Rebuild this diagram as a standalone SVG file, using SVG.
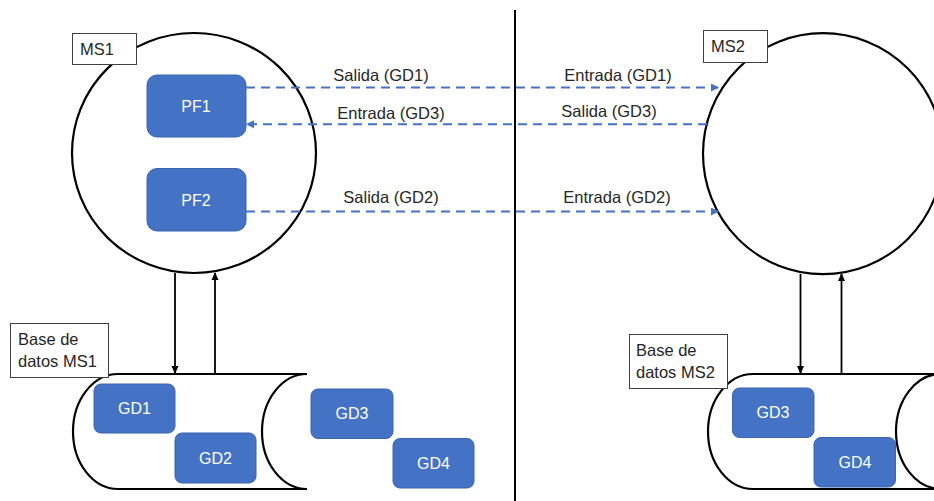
<svg xmlns="http://www.w3.org/2000/svg" width="934" height="501" viewBox="0 0 934 501">
<style>
  .lbl{font-family:"Liberation Sans",Arial,sans-serif;font-size:16.5px;fill:#262626}
  .wt{font-family:"Liberation Sans",Arial,sans-serif;font-size:16px;fill:#ffffff;text-anchor:middle}
  .box{fill:#4472C4;stroke:#3A64B0;stroke-width:1}
  .tag{fill:#ffffff;stroke:#404040;stroke-width:1}
  .ms{fill:#ffffff;stroke:#000000;stroke-width:2.2}
  .cyl{fill:#ffffff;stroke:#000000;stroke-width:2.2}
  .dash{stroke:#4472C4;stroke-width:2;stroke-dasharray:9,6;fill:none}
  .solid{stroke:#000000;stroke-width:1.8;fill:none}
</style>
<defs>
  <marker id="ab" markerWidth="8" markerHeight="8" refX="7" refY="4" orient="auto" markerUnits="userSpaceOnUse">
    <path d="M0,0 L8,4 L0,8 Z" fill="#4472C4"/>
  </marker>
  <marker id="ak" markerWidth="8" markerHeight="8" refX="7" refY="4" orient="auto" markerUnits="userSpaceOnUse">
    <path d="M0,0.5 L8,4 L0,7.5 Z" fill="#000000"/>
  </marker>
</defs>

<!-- divider -->
<line x1="515" y1="10" x2="515" y2="501" stroke="#000" stroke-width="2"/>

<!-- MS1 -->
<g id="ms1">
  <ellipse class="ms" cx="194" cy="153" rx="122" ry="120"/>
  <rect class="tag" x="72.5" y="33.5" width="64" height="31"/>
  <text class="lbl" x="80" y="55">MS1</text>
</g>
<g id="pf1">
  <rect class="box" x="147" y="75" width="99" height="62" rx="10"/>
  <text class="wt" x="196" y="112">PF1</text>
</g>
<g id="pf2">
  <rect class="box" x="147" y="168.5" width="99" height="62.5" rx="10"/>
  <text class="wt" x="196" y="206">PF2</text>
</g>

<!-- MS2 -->
<g id="ms2">
  <ellipse class="ms" cx="823" cy="153.7" rx="120" ry="120.5"/>
  <rect class="tag" x="703.5" y="30.5" width="64" height="32"/>
  <text class="lbl" x="711" y="52">MS2</text>
</g>

<!-- DB MS1 -->
<g id="db1">
  <path class="cyl" d="M307,374 L118,374 A45,57.5 0 0 0 118,489 L307,489"/>
  <path class="cyl" d="M307,374 A45,57.5 0 0 0 307,489" style="fill:none"/>
  <rect class="tag" x="10.5" y="323.5" width="98" height="54"/>
  <text class="lbl" x="18" y="345">Base de</text>
  <text class="lbl" x="18" y="367">datos MS1</text>
</g>
<g id="gd1a"><rect class="box" x="94" y="384" width="81" height="49" rx="7"/><text class="wt" x="134.5" y="414">GD1</text></g>
<g id="gd2a"><rect class="box" x="175" y="433" width="81" height="50" rx="7"/><text class="wt" x="215.5" y="464">GD2</text></g>
<g id="gd3a"><rect class="box" x="311" y="389" width="82" height="49.5" rx="7"/><text class="wt" x="352" y="419">GD3</text></g>
<g id="gd4a"><rect class="box" x="393" y="438.5" width="81" height="49.5" rx="7"/><text class="wt" x="433.5" y="469">GD4</text></g>

<!-- DB MS2 -->
<g id="db2">
  <path class="cyl" d="M940,374 L753,374 A45,57.5 0 0 0 753,489 L940,489"/>
  <path class="cyl" d="M941,374 A45,57.5 0 0 0 941,489" style="fill:none"/>
  <rect class="tag" x="629.5" y="334.5" width="98" height="54"/>
  <text class="lbl" x="636" y="356">Base de</text>
  <text class="lbl" x="636" y="378">datos MS2</text>
</g>
<g id="gd3b"><rect class="box" x="732.5" y="388" width="81.5" height="49.5" rx="7"/><text class="wt" x="773" y="418">GD3</text></g>
<g id="gd4b"><rect class="box" x="814" y="437.5" width="81.5" height="49.5" rx="7"/><text class="wt" x="855" y="468">GD4</text></g>

<!-- connectors -->
<g id="connectors">
  <line class="dash" x1="246" y1="87.5" x2="718" y2="87.5" marker-end="url(#ab)"/>
  <line class="dash" x1="707" y1="124.3" x2="247" y2="124.3" marker-end="url(#ab)"/>
  <line class="dash" x1="246" y1="211.5" x2="718" y2="211.5" marker-end="url(#ab)"/>
  <line class="solid" x1="175" y1="273" x2="175" y2="373" marker-end="url(#ak)"/>
  <line class="solid" x1="215" y1="374" x2="215" y2="273" marker-end="url(#ak)"/>
  <line class="solid" x1="800.5" y1="274" x2="800.5" y2="373" marker-end="url(#ak)"/>
  <line class="solid" x1="841.5" y1="374" x2="841.5" y2="274" marker-end="url(#ak)"/>
</g>

<!-- labels -->
<g id="labels">
  <text class="lbl" x="381" y="81" text-anchor="middle">Salida (GD1)</text>
  <text class="lbl" x="618" y="81" text-anchor="middle">Entrada (GD1)</text>
  <text class="lbl" x="391" y="119" text-anchor="middle">Entrada (GD3)</text>
  <text class="lbl" x="609" y="117" text-anchor="middle">Salida (GD3)</text>
  <text class="lbl" x="391" y="203" text-anchor="middle">Salida (GD2)</text>
  <text class="lbl" x="617" y="203" text-anchor="middle">Entrada (GD2)</text>
</g>
</svg>
